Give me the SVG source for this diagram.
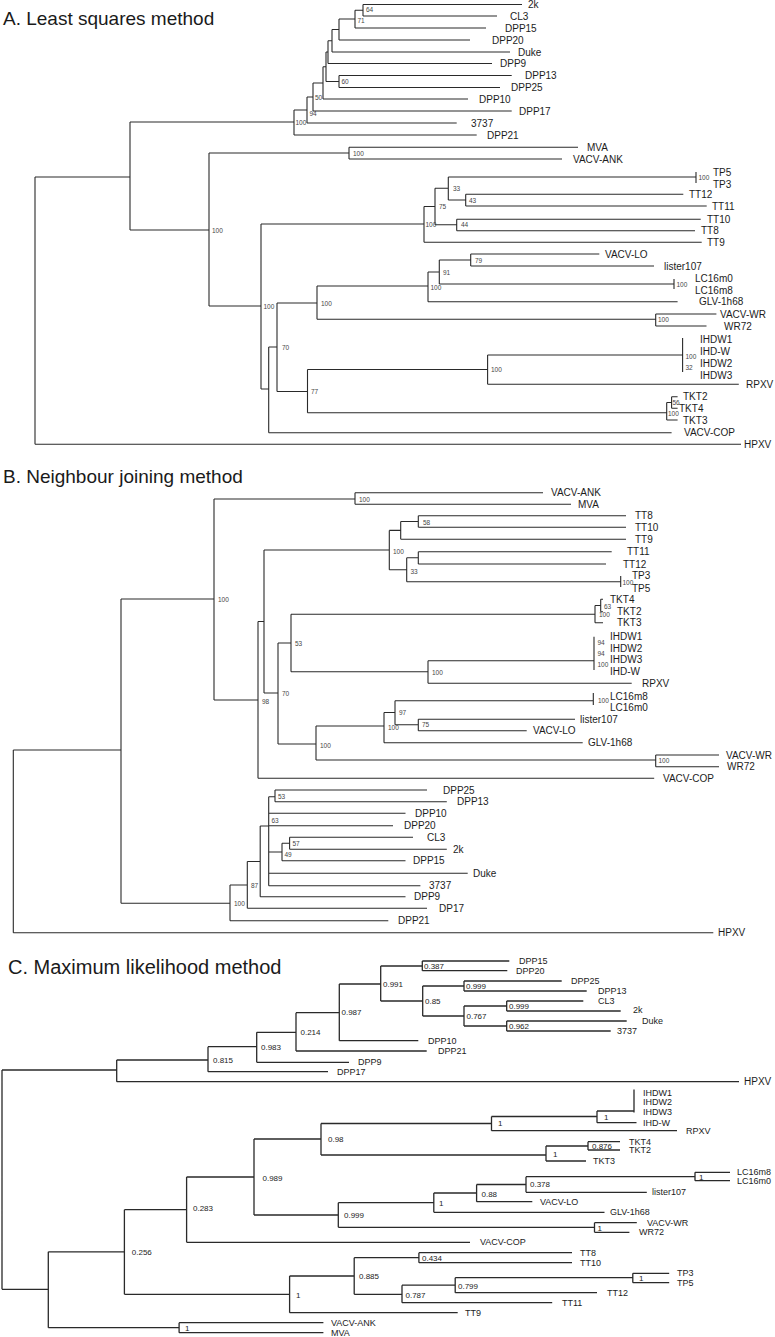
<svg xmlns="http://www.w3.org/2000/svg" width="775" height="1337" viewBox="0 0 775 1337">
<style>
.br{fill:none;stroke:#2a2a2a;stroke-width:1.1}
.brc{fill:none;stroke:#2a2a2a;stroke-width:1.3}
text{font-family:"Liberation Sans",Arial,sans-serif;fill:#1a1a1a}
.t{font-size:10px;dominant-baseline:central}
.tc{font-size:9px;dominant-baseline:central}
.bs{font-size:6.5px;fill:#444;dominant-baseline:central}
.bc{font-size:8px;dominant-baseline:central}
.ti{font-size:19px}
.lbl{opacity:0.99}
</style>
<rect width="775" height="1337" fill="#fff"/>

<g id="panelA">
<text class="ti" x="3" y="24.5">A. Least squares method</text>
<g id="A-connectors">
<path class="br" d="M35 177V444.3M35 177H130M35 444.3H741M130 122V230M130 122H294M130 230H209M294 110V135M294 110H307M294 135H476.7M307 97V123M307 97H313M307 123H456.7M313 83V111M313 83H323M313 111H511.7M323 66.75V99M323 66.75H326M323 99H468M326 52V81.5M326 52H328M326 81.5H339M339 75.5V87.5M339 75.5H511.7M339 87.5H500M328 40.75V63.5M328 40.75H332M328 63.5H492M332 29.5V52M332 29.5H339M332 52H510M339 19V40M339 19H355M339 40H470M355 10.25V28M355 10.25H363M355 28H486M363 4.5V16M363 4.5H522M363 16H497M209 153V306M209 153H349M209 306H261M349 147.3V159M349 147.3H578M349 159H562M261 224V389M261 224H424M261 389H268.7M424 206.5V242.3M424 206.5H435M424 242.3H701.7M435 188.3V224.8M435 188.3H448.3M435 224.8H456.7M456.7 219.3V230.7M456.7 219.3H700.7M456.7 230.7H695M448.3 177V200M448.3 177H696M448.3 200H465.7M696 172V183M465.7 194.3V206M465.7 194.3H683.3M465.7 206H706.7M268.7 347V432.7M268.7 347H277M268.7 432.7H671.6M277 303V391.5M277 303H317M277 391.5H307.5M317 286V319.3M317 286H428M317 319.3H655.7M428 272V301.7M428 272H439.3M428 301.7H677.6M439.3 260V284M439.3 260H470.7M439.3 284H674M470.7 254V266M470.7 254H599.3M470.7 266H654M674 279V289M655.7 314V326M655.7 314H716.4M655.7 326H706.5M307.5 369.5V412.7M307.5 369.5H487.6M307.5 412.7H666.7M487.6 355V384.3M487.6 355H682.6M487.6 384.3H738.8M682.6 338V372M666.7 402.5V420M666.7 402.5H671.6M666.7 420H677.6M671.6 396.7V408.3M671.6 396.7H677.6M671.6 408.3H677.6"/>
</g>
<g id="A-tips" class="lbl">
<g id="A-2k"><text class="t" x="528" y="4.5">2k</text></g>
<g id="A-CL3"><text class="t" x="510" y="16">CL3</text></g>
<g id="A-DPP15"><text class="t" x="505" y="28">DPP15</text></g>
<g id="A-DPP20"><text class="t" x="492" y="40">DPP20</text></g>
<g id="A-Duke"><text class="t" x="518" y="52">Duke</text></g>
<g id="A-DPP9"><text class="t" x="500" y="63.5">DPP9</text></g>
<g id="A-DPP13"><text class="t" x="525" y="75.5">DPP13</text></g>
<g id="A-DPP25"><text class="t" x="511" y="87.5">DPP25</text></g>
<g id="A-DPP10"><text class="t" x="479" y="99">DPP10</text></g>
<g id="A-DPP17"><text class="t" x="519" y="111">DPP17</text></g>
<g id="A-3737"><text class="t" x="471" y="123">3737</text></g>
<g id="A-DPP21"><text class="t" x="487" y="135">DPP21</text></g>
<g id="A-MVA"><text class="t" x="587" y="147.3">MVA</text></g>
<g id="A-VACV-ANK"><text class="t" x="573" y="159">VACV-ANK</text></g>
<g id="A-TP5"><text class="t" x="713" y="172.7">TP5</text></g>
<g id="A-TP3"><text class="t" x="713" y="184">TP3</text></g>
<g id="A-TT12"><text class="t" x="689" y="194.3">TT12</text></g>
<g id="A-TT11"><text class="t" x="712" y="206">TT11</text></g>
<g id="A-TT10"><text class="t" x="707" y="219.3">TT10</text></g>
<g id="A-TT8"><text class="t" x="701" y="230.7">TT8</text></g>
<g id="A-TT9"><text class="t" x="707" y="242.3">TT9</text></g>
<g id="A-VACV-LO"><text class="t" x="605" y="254">VACV-LO</text></g>
<g id="A-lister107"><text class="t" x="664" y="266">lister107</text></g>
<g id="A-LC16m0"><text class="t" x="695" y="278.3">LC16m0</text></g>
<g id="A-LC16m8"><text class="t" x="695" y="290">LC16m8</text></g>
<g id="A-GLV-1h68"><text class="t" x="699" y="301.7">GLV-1h68</text></g>
<g id="A-VACV-WR"><text class="t" x="720" y="314">VACV-WR</text></g>
<g id="A-WR72"><text class="t" x="724" y="326">WR72</text></g>
<g id="A-IHDW1"><text class="t" x="700" y="339">IHDW1</text></g>
<g id="A-IHD-W"><text class="t" x="700" y="351">IHD-W</text></g>
<g id="A-IHDW2"><text class="t" x="700" y="363">IHDW2</text></g>
<g id="A-IHDW3"><text class="t" x="700" y="375">IHDW3</text></g>
<g id="A-RPXV"><text class="t" x="746" y="384.3">RPXV</text></g>
<g id="A-TKT2"><text class="t" x="683" y="396.7">TKT2</text></g>
<g id="A-TKT4"><text class="t" x="679" y="408.3">TKT4</text></g>
<g id="A-TKT3"><text class="t" x="683" y="420">TKT3</text></g>
<g id="A-VACV-COP"><text class="t" x="684" y="432.7">VACV-COP</text></g>
<g id="A-HPXV"><text class="t" x="744" y="444.3">HPXV</text></g>
</g>
<g id="A-support" class="lbl">
<text class="bs" x="366" y="9.5">64</text>
<text class="bs" x="357.5" y="20">71</text>
<text class="bs" x="341.5" y="81.5">60</text>
<text class="bs" x="315" y="97">50</text>
<text class="bs" x="309.5" y="113.5">94</text>
<text class="bs" x="295.5" y="122.5">100</text>
<text class="bs" x="212" y="230">100</text>
<text class="bs" x="353" y="153.3">100</text>
<text class="bs" x="453" y="188.7">33</text>
<text class="bs" x="469" y="200.7">43</text>
<text class="bs" x="439" y="206.7">75</text>
<text class="bs" x="425.5" y="224.5">100</text>
<text class="bs" x="461" y="224.5">44</text>
<text class="bs" x="698.5" y="177.5">100</text>
<text class="bs" x="475" y="260">79</text>
<text class="bs" x="443" y="272">91</text>
<text class="bs" x="430.5" y="287">100</text>
<text class="bs" x="676.5" y="284">100</text>
<text class="bs" x="263.5" y="306">100</text>
<text class="bs" x="321" y="303.3">100</text>
<text class="bs" x="282" y="347">70</text>
<text class="bs" x="658" y="319.3">100</text>
<text class="bs" x="491" y="369.5">100</text>
<text class="bs" x="685.5" y="356">100</text>
<text class="bs" x="685.5" y="367">32</text>
<text class="bs" x="311" y="391.5">77</text>
<text class="bs" x="672.5" y="402">56</text>
<text class="bs" x="668" y="413">100</text>
</g>
</g>

<g id="panelB">
<text class="ti" x="3" y="483">B. Neighbour joining method</text>
<g id="B-connectors">
<path class="br" d="M13.3 750V932.7M13.3 750H121M13.3 932.7H713.3M121 599V903.3M121 599H214M121 903.3H230M214 499V700M214 499H355M214 700H258M355 492.7V504.3M355 492.7H543M355 504.3H571M258 621.5V778.3M258 621.5H264M258 778.3H654.2M264 550V693M264 550H389.3M264 693H278M389.3 530.4V569.75M389.3 530.4H400.7M389.3 569.75H406.7M400.7 521.5V539.3M400.7 521.5H418.3M400.7 539.3H626M418.3 515.7V527.3M418.3 515.7H626M418.3 527.3H626M406.7 557.8V581.7M406.7 557.8H418.3M406.7 581.7H620.7M418.3 551.7V564M418.3 551.7H611.7M418.3 564H606M620.7 576V587M278 643V744M278 643H291M278 744H316M291 614.3V671.7M291 614.3H595M291 671.7H428M595 605.5V622.7M595 605.5H600.7M595 622.7H603M600.7 599.3V611.7M600.7 599.3H603M600.7 611.7H603M428 660.7V683.3M428 660.7H594M428 683.3H631.7M594 636.7V670M316 726V760M316 726H384M316 760H655.7M384 712.5V742.7M384 712.5H395M384 742.7H582.7M395 700.7V724.7M395 700.7H593.3M395 724.7H418.3M593.3 693V705M418.3 719.3V730.7M418.3 719.3H575M418.3 730.7H526.7M655.7 755V766.7M655.7 755H719M655.7 766.7H719M230 885V920.7M230 885H247.3M230 920.7H388.3M247.3 861.5V908.3M247.3 861.5H260.2M247.3 908.3H427M260.2 826V896.7M260.2 826H268.7M260.2 896.7H405.5M268.7 796.7V885.7M268.7 796.7H275M268.7 813.3H405.5M268.7 825.7H393M268.7 852H282M268.7 873.3H467.7M268.7 885.7H420.4M275 790V801.7M275 790H427M275 801.7H446.8M282 843.3V860.7M282 843.3H289.6M282 860.7H405.5M289.6 837.3V849.3M289.6 837.3H413M289.6 849.3H446.8"/>
</g>
<g id="B-tips" class="lbl">
<g id="B-VACV-ANK"><text class="t" x="551" y="492.7">VACV-ANK</text></g>
<g id="B-MVA"><text class="t" x="578" y="504.3">MVA</text></g>
<g id="B-TT8"><text class="t" x="635" y="515.7">TT8</text></g>
<g id="B-TT10"><text class="t" x="635" y="527.3">TT10</text></g>
<g id="B-TT9"><text class="t" x="635" y="539.3">TT9</text></g>
<g id="B-TT11"><text class="t" x="627" y="551.7">TT11</text></g>
<g id="B-TT12"><text class="t" x="623" y="564">TT12</text></g>
<g id="B-TP3"><text class="t" x="632" y="575.5">TP3</text></g>
<g id="B-TP5"><text class="t" x="632" y="588">TP5</text></g>
<g id="B-TKT4"><text class="t" x="610" y="599.3">TKT4</text></g>
<g id="B-TKT2"><text class="t" x="617" y="611.7">TKT2</text></g>
<g id="B-TKT3"><text class="t" x="617" y="622.7">TKT3</text></g>
<g id="B-IHDW1"><text class="t" x="610" y="636.7">IHDW1</text></g>
<g id="B-IHDW2"><text class="t" x="610" y="648.3">IHDW2</text></g>
<g id="B-IHDW3"><text class="t" x="610" y="659.3">IHDW3</text></g>
<g id="B-IHD-W"><text class="t" x="610" y="671">IHD-W</text></g>
<g id="B-RPXV"><text class="t" x="642" y="683.3">RPXV</text></g>
<g id="B-LC16m8"><text class="t" x="610" y="696">LC16m8</text></g>
<g id="B-LC16m0"><text class="t" x="610" y="707.5">LC16m0</text></g>
<g id="B-lister107"><text class="t" x="580" y="719.3">lister107</text></g>
<g id="B-VACV-LO"><text class="t" x="533" y="730.7">VACV-LO</text></g>
<g id="B-GLV-1h68"><text class="t" x="588" y="742.7">GLV-1h68</text></g>
<g id="B-VACV-WR"><text class="t" x="726" y="755">VACV-WR</text></g>
<g id="B-WR72"><text class="t" x="727" y="766.7">WR72</text></g>
<g id="B-VACV-COP"><text class="t" x="663" y="778.3">VACV-COP</text></g>
<g id="B-DPP25"><text class="t" x="443" y="790">DPP25</text></g>
<g id="B-DPP13"><text class="t" x="457" y="801.7">DPP13</text></g>
<g id="B-DPP10"><text class="t" x="415" y="813.3">DPP10</text></g>
<g id="B-DPP20"><text class="t" x="404" y="825.7">DPP20</text></g>
<g id="B-CL3"><text class="t" x="427" y="837.3">CL3</text></g>
<g id="B-2k"><text class="t" x="453" y="849.3">2k</text></g>
<g id="B-DPP15"><text class="t" x="413" y="860.7">DPP15</text></g>
<g id="B-Duke"><text class="t" x="473" y="873.3">Duke</text></g>
<g id="B-3737"><text class="t" x="429" y="885.7">3737</text></g>
<g id="B-DPP9"><text class="t" x="414" y="896.7">DPP9</text></g>
<g id="B-DP17"><text class="t" x="439" y="908.3">DP17</text></g>
<g id="B-DPP21"><text class="t" x="398" y="920.7">DPP21</text></g>
<g id="B-HPXV"><text class="t" x="718" y="932.7">HPXV</text></g>
</g>
<g id="B-support" class="lbl">
<text class="bs" x="359" y="499">100</text>
<text class="bs" x="423" y="522">58</text>
<text class="bs" x="393" y="551">100</text>
<text class="bs" x="410.5" y="571.5">33</text>
<text class="bs" x="622.5" y="582">100</text>
<text class="bs" x="604" y="606">63</text>
<text class="bs" x="599" y="614.5">100</text>
<text class="bs" x="295" y="643">53</text>
<text class="bs" x="597.5" y="642.5">94</text>
<text class="bs" x="597.5" y="653.5">94</text>
<text class="bs" x="597.5" y="664.5">100</text>
<text class="bs" x="432" y="672.3">100</text>
<text class="bs" x="282" y="693">70</text>
<text class="bs" x="218" y="599">100</text>
<text class="bs" x="262" y="701">98</text>
<text class="bs" x="598" y="700.7">100</text>
<text class="bs" x="399" y="712.5">97</text>
<text class="bs" x="422" y="724.7">75</text>
<text class="bs" x="388" y="727.5">100</text>
<text class="bs" x="320" y="745">100</text>
<text class="bs" x="658.5" y="760.5">100</text>
<text class="bs" x="278" y="796.7">53</text>
<text class="bs" x="271.5" y="820">63</text>
<text class="bs" x="292.5" y="843.3">57</text>
<text class="bs" x="284.5" y="854.5">49</text>
<text class="bs" x="251" y="885">87</text>
<text class="bs" x="234" y="903.3">100</text>
</g>
</g>

<g id="panelC">
<text class="ti" x="8" y="974" style="font-size:20px">C. Maximum likelihood method</text>
<g id="C-connectors">
<path class="brc" d="M2 1070V1289.3M2 1070H116.7M2 1289.3H48.3M116.7 1060V1081.7M116.7 1060H208M116.7 1081.7H739M208 1046.7V1071.7M208 1046.7H256.7M208 1071.7H328M256.7 1032.3V1062.3M256.7 1032.3H296M256.7 1062.3H349M296 1012.7V1051M296 1012.7H339.3M296 1051H426.7M339.3 984V1040.7M339.3 984H380.7M339.3 1040.7H418.3M380.7 966V1001M380.7 966H422.3M380.7 1001H422.7M422.3 961V970.7M422.3 961H509.3M422.3 970.7H507.3M422.7 986V1016M422.7 986H464M422.7 1016H464M464 981V991M464 981H561.7M464 991H586.7M464 1006V1026M464 1006H506.7M464 1026H506.7M506.7 1001V1011M506.7 1001H583.3M506.7 1011H620.7M506.7 1021V1031M506.7 1021H626.7M506.7 1031H610.7M48.3 1251.8V1327.7M48.3 1251.8H124.4M48.3 1327.7H179.1M124.4 1209.7V1294.3M124.4 1209.7H186.6M124.4 1294.3H289.6M186.6 1177V1242.3M186.6 1177H254M186.6 1242.3H470M254 1139V1215M254 1139H321M254 1215H338.3M321 1123.5V1155M321 1123.5H491.5M321 1155H546M491.5 1116.5V1130.7M491.5 1116.5H597M491.5 1130.7H677M597 1111V1122.7M597 1111H634M597 1122.7H636.5M634 1089.5V1112.5M546 1146V1161M546 1146H588M546 1161H586M588 1141.7V1150M588 1141.7H620M588 1150H620M338.3 1202.7V1227.3M338.3 1202.7H433.8M338.3 1227.3H594.5M433.8 1193V1212.3M433.8 1193H476.6M433.8 1212.3H604.5M476.6 1184.5V1201.7M476.6 1184.5H526M476.6 1201.7H532.3M526 1176.7V1192.3M526 1176.7H695M526 1192.3H646.8M695 1172.3V1180.7M695 1172.3H730M695 1180.7H730M594.5 1222.7V1232.3M594.5 1222.7H636.8M594.5 1232.3H629.4M289.6 1276V1312.7M289.6 1276H354.2M289.6 1312.7H457.7M354.2 1257.7V1294.3M354.2 1257.7H418.9M354.2 1294.3H402M418.9 1252.7V1262.7M418.9 1252.7H572M418.9 1262.7H572M402 1285.2V1302.7M402 1285.2H455.2M402 1302.7H552.2M455.2 1277.7V1292.7M455.2 1277.7H632.8M455.2 1292.7H597M632.8 1273.3V1282.7M632.8 1273.3H669.2M632.8 1282.7H669.2M179.1 1322.7V1332.7M179.1 1322.7H323.4M179.1 1332.7H323.4"/>
</g>
<g id="C-tips" class="lbl">
<g id="C-DPP15"><text class="tc" x="519" y="961">DPP15</text></g>
<g id="C-DPP20"><text class="tc" x="516" y="970.7">DPP20</text></g>
<g id="C-DPP25"><text class="tc" x="571" y="981">DPP25</text></g>
<g id="C-DPP13"><text class="tc" x="598" y="991">DPP13</text></g>
<g id="C-CL3"><text class="tc" x="598" y="1001">CL3</text></g>
<g id="C-2k"><text class="tc" x="633" y="1010">2k</text></g>
<g id="C-Duke"><text class="tc" x="642" y="1020.7">Duke</text></g>
<g id="C-3737"><text class="tc" x="617" y="1031">3737</text></g>
<g id="C-DPP10"><text class="tc" x="428" y="1040.7">DPP10</text></g>
<g id="C-DPP21"><text class="tc" x="438" y="1051">DPP21</text></g>
<g id="C-DPP9"><text class="tc" x="358" y="1062.3">DPP9</text></g>
<g id="C-DPP17"><text class="tc" x="337" y="1071.7">DPP17</text></g>
<g id="C-HPXV"><text class="t" x="744" y="1081.7">HPXV</text></g>
<g id="C-IHDW1"><text class="tc" x="643" y="1092.7">IHDW1</text></g>
<g id="C-IHDW2"><text class="tc" x="643" y="1102.3">IHDW2</text></g>
<g id="C-IHDW3"><text class="tc" x="643" y="1112.3">IHDW3</text></g>
<g id="C-IHD-W"><text class="tc" x="643" y="1122.7">IHD-W</text></g>
<g id="C-RPXV"><text class="tc" x="686" y="1130.7">RPXV</text></g>
<g id="C-TKT4"><text class="tc" x="629" y="1141.7">TKT4</text></g>
<g id="C-TKT2"><text class="tc" x="629" y="1150">TKT2</text></g>
<g id="C-TKT3"><text class="tc" x="593" y="1161">TKT3</text></g>
<g id="C-LC16m8"><text class="tc" x="737" y="1172.3">LC16m8</text></g>
<g id="C-LC16m0"><text class="tc" x="737" y="1180.7">LC16m0</text></g>
<g id="C-lister107"><text class="tc" x="652" y="1192.3">lister107</text></g>
<g id="C-VACV-LO"><text class="tc" x="540" y="1201.7">VACV-LO</text></g>
<g id="C-GLV-1h68"><text class="tc" x="610" y="1212.3">GLV-1h68</text></g>
<g id="C-VACV-WR"><text class="tc" x="647" y="1222.7">VACV-WR</text></g>
<g id="C-WR72"><text class="tc" x="639" y="1232.3">WR72</text></g>
<g id="C-VACV-COP"><text class="tc" x="480" y="1242.3">VACV-COP</text></g>
<g id="C-TT8"><text class="tc" x="580" y="1252.7">TT8</text></g>
<g id="C-TT10"><text class="tc" x="580" y="1262.7">TT10</text></g>
<g id="C-TP3"><text class="tc" x="677" y="1273.3">TP3</text></g>
<g id="C-TP5"><text class="tc" x="677" y="1282.7">TP5</text></g>
<g id="C-TT12"><text class="tc" x="607" y="1292.7">TT12</text></g>
<g id="C-TT11"><text class="tc" x="562" y="1302.7">TT11</text></g>
<g id="C-TT9"><text class="tc" x="465" y="1312.7">TT9</text></g>
<g id="C-VACV-ANK"><text class="tc" x="331" y="1322.7">VACV-ANK</text></g>
<g id="C-MVA"><text class="tc" x="331" y="1332.7">MVA</text></g>
</g>
<g id="C-support" class="lbl">
<text class="bc" x="424" y="966.3">0.387</text>
<text class="bc" x="383" y="984">0.991</text>
<text class="bc" x="466" y="986">0.999</text>
<text class="bc" x="425" y="1001.5">0.85</text>
<text class="bc" x="509" y="1006">0.999</text>
<text class="bc" x="466.5" y="1016.5">0.767</text>
<text class="bc" x="509" y="1026">0.962</text>
<text class="bc" x="341.5" y="1012.5">0.987</text>
<text class="bc" x="300.5" y="1032.5">0.214</text>
<text class="bc" x="261" y="1047">0.983</text>
<text class="bc" x="213" y="1060">0.815</text>
<text class="bc" x="604" y="1117">1</text>
<text class="bc" x="498" y="1123.5">1</text>
<text class="bc" x="328" y="1139.5">0.98</text>
<text class="bc" x="592" y="1146.3">0.876</text>
<text class="bc" x="553" y="1154.5">1</text>
<text class="bc" x="262.5" y="1178">0.989</text>
<text class="bc" x="699" y="1177">1</text>
<text class="bc" x="530" y="1184.5">0.378</text>
<text class="bc" x="481.5" y="1194">0.88</text>
<text class="bc" x="439" y="1203.5">1</text>
<text class="bc" x="344" y="1215">0.999</text>
<text class="bc" x="597.5" y="1228">1</text>
<text class="bc" x="193" y="1208.5">0.283</text>
<text class="bc" x="131.8" y="1252.5">0.256</text>
<text class="bc" x="422" y="1258">0.434</text>
<text class="bc" x="359" y="1276">0.885</text>
<text class="bc" x="296" y="1295">1</text>
<text class="bc" x="458" y="1286">0.799</text>
<text class="bc" x="405.5" y="1295">0.787</text>
<text class="bc" x="639" y="1278.5">1</text>
<text class="bc" x="185" y="1328.5">1</text>
</g>
</g>
</svg>
